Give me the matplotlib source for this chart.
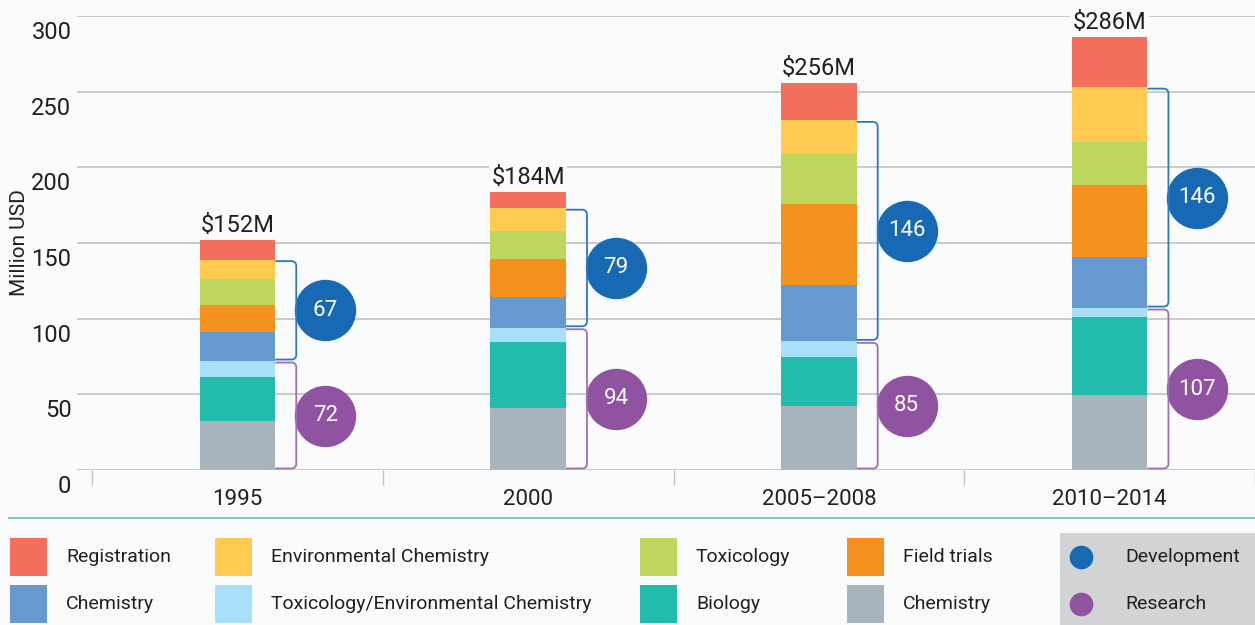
import numpy as np
import matplotlib
matplotlib.use("Agg")
from matplotlib import pyplot as plt
from matplotlib.patches import PathPatch, Rectangle
from matplotlib.lines import Line2D
from matplotlib.path import Path
from matplotlib.transforms import IdentityTransform, ScaledTranslation

plt.rcParams['font.family'] = ['Roboto', 'DejaVu Sans']

# Data (million USD), stacked bottom -> top
periods = ['1995', '2000', '2005\u20132008', '2010\u20132014']
chem_grey = [32.5, 41, 42, 49.5]
biology = [29, 43.5, 32.5, 51.5]
tox_env = [10.5, 9.5, 10.5, 6]
chem_blue = [19, 20.5, 37.5, 34]
field_trials = [18, 25, 53.5, 47.5]
toxicology = [17, 18.5, 32.5, 28.5]
env_chem = [13, 15, 22.5, 36]
registration = [13, 11, 25, 33]

totals = [152, 184, 256, 286]
research = [72, 94, 85, 107]
development = [67, 79, 146, 146]

series = [chem_grey, biology, tox_env, chem_blue, field_trials, toxicology, env_chem, registration]
names = ['Chemistry', 'Biology', 'Toxicology/Environmental Chemistry', 'Chemistry',
         'Field trials', 'Toxicology', 'Environmental Chemistry', 'Registration']
colors = ['#a8b4bc', '#21bcac', '#a9dff8', '#6699d0', '#f5921e', '#bdd75e', '#fecb50', '#f2705b']

bg = '#f9fbfd'
dev_col = '#1769b4'
res_col = '#8f53a1'
grid_col = '#c2c2c2'
txt_col = '#231f20'

W, H = 1255, 625
fig = plt.figure(figsize=(W / 100, H / 100), dpi=100, facecolor=bg)
ax = fig.add_axes([77 / W, 155 / H, 1178 / W, 454 / H], facecolor=bg)

x = np.arange(len(periods))
bar_w = 0.26
bottom = np.zeros(len(periods))
for vals, col, nm in zip(series, colors, names):
    ax.bar(x, vals, bar_w, bottom=bottom, color=col, label=nm, zorder=3)
    bottom = bottom + np.array(vals)

ax.set_xlim(-0.552, 3.493)
ax.set_ylim(0, 300)
for s in ax.spines.values():
    s.set_visible(False)

ax.set_yticks(range(0, 301, 50))
ax.yaxis.grid(True, color=grid_col, lw=1.2)
ax.set_axisbelow(True)
ax.tick_params(axis='y', length=0, pad=4, labelsize=17, labelcolor=txt_col)
for lab in ax.get_yticklabels():
    lab.set_transform(lab.get_transform() + ScaledTranslation(0, -0.14, fig.dpi_scale_trans))
ax.set_ylabel('Million USD', fontsize=15, color=txt_col, labelpad=2)

ax.set_xticks(x)
ax.set_xticklabels(periods)
ax.set_xticks(np.arange(-0.5, 4, 1), minor=True)
ax.tick_params(axis='x', which='major', length=0, pad=14, labelsize=16, labelcolor=txt_col)
ax.tick_params(axis='x', which='minor', length=11, width=1, color=grid_col)

# totals above bars
for i, t in enumerate(totals):
    ax.annotate(f'${t}M', (x[i], t), xytext=(0, 2), textcoords='offset points',
                ha='center', va='bottom', fontsize=17, color=txt_col, zorder=4,
                bbox=dict(boxstyle='square,pad=0.1', fc=bg, ec='none'))


def bracket(xe_data, y0, y1, color):
    xe, ya = ax.transData.transform((xe_data, y0))
    _, yb = ax.transData.transform((xe_data, y1))
    ya += 1.5
    yb -= 1.5
    xv = xe + 21
    r = 5
    verts = [(xe, yb), (xv - r, yb), (xv, yb), (xv, yb - r), (xv, ya + r), (xv, ya),
             (xv - r, ya), (xe, ya)]
    codes = [Path.MOVETO, Path.LINETO, Path.CURVE3, Path.CURVE3, Path.LINETO,
             Path.CURVE3, Path.CURVE3, Path.LINETO]
    p = PathPatch(Path(verts, codes), fc='none', ec=color, lw=1.3,
                  transform=IdentityTransform(), clip_on=False, zorder=3)
    fig.add_artist(p)


circ_dx = bar_w / 2 + 50 / 291
for i in range(len(periods)):
    r0 = research[i]
    d1 = r0 + development[i]
    bracket(x[i] + bar_w / 2, 0, r0, '#9d6fb3')
    bracket(x[i] + bar_w / 2, r0, d1, '#2f78c0')
    ax.scatter(x[i] + circ_dx, (r0 + d1) / 2, s=1866, color=dev_col, zorder=5, clip_on=False)
    ax.text(x[i] + circ_dx, (r0 + d1) / 2, str(development[i]), color='white',
            ha='center', va='center', fontsize=16, zorder=6)
    ax.scatter(x[i] + circ_dx, r0 / 2, s=1866, color=res_col, zorder=5, clip_on=False)
    ax.text(x[i] + circ_dx, r0 / 2, str(research[i]), color='white',
            ha='center', va='center', fontsize=16, zorder=6)

# separator line
fig.add_artist(Line2D([9 / W, 1], [1 - 518 / H] * 2, color='#72c0b9', lw=1.3))

# legend (laid out by hand: 4 columns x 2 rows of swatches)
leg_cols = [10, 215, 640, 847]
leg_rows = [557, 604]
order = [7, 3, 6, 2, 5, 1, 4, 0]
for n, k in enumerate(order):
    cx = leg_cols[n // 2]
    cy = leg_rows[n % 2]
    fig.add_artist(Rectangle((cx / W, 1 - (cy + 19) / H), 37 / W, 38 / H,
                             transform=fig.transFigure, fc=colors[k], ec='none'))
    fig.text((cx + 56) / W, 1 - cy / H, names[k], fontsize=14, color=txt_col,
             ha='left', va='center')

# grey box with research / development keys
fig.add_artist(Rectangle((1060 / W, 0), 195 / W, 92 / H, transform=fig.transFigure,
                         fc='#d2d3d5', ec='none', zorder=0))
for cy, col, lab in zip(leg_rows, [dev_col, res_col], ['Development', 'Research']):
    fig.add_artist(Line2D([1081 / W], [1 - cy / H], ls='none', marker='o', ms=16,
                          color=col))
    fig.text(1125 / W, 1 - cy / H, lab, fontsize=14, color=txt_col, ha='left', va='center')

fig.savefig('out.png', dpi=100, facecolor=bg)
